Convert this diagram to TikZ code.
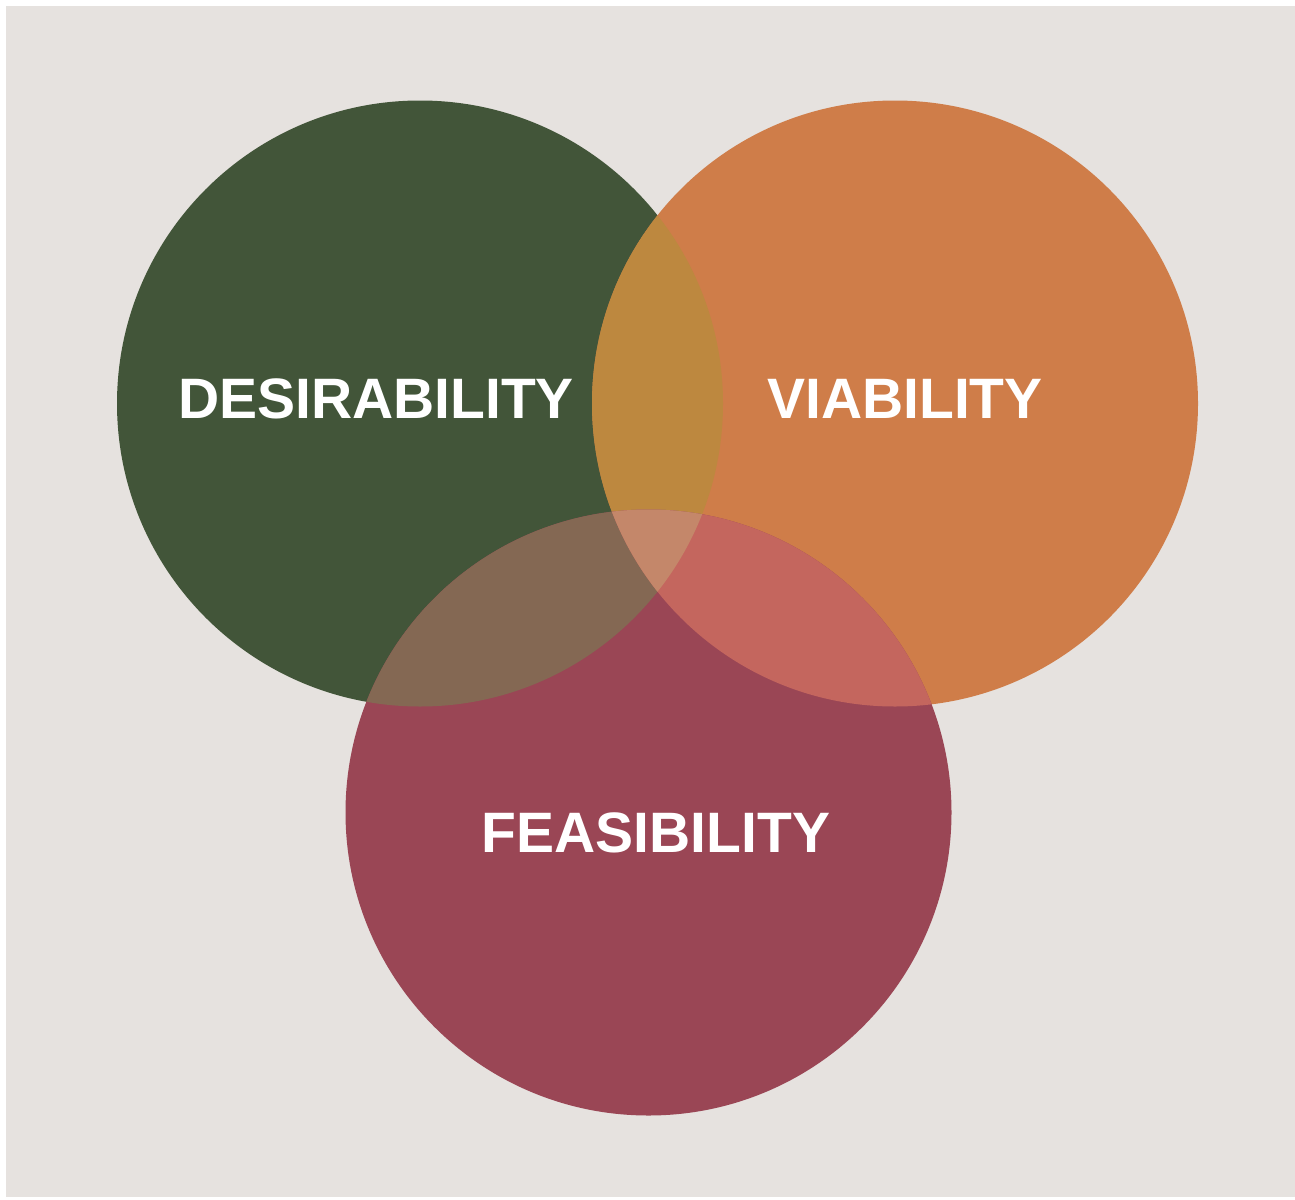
\documentclass[tikz,border=0pt]{standalone}
\usepackage{fontspec}
\setmainfont{Liberation Sans}
\definecolor{backgray}{HTML}{E6E2DF}
\definecolor{desgreen}{HTML}{425539}
\definecolor{vioorange}{HTML}{CF7D49}
\definecolor{feared}{HTML}{9A4655}
\definecolor{dvmix}{HTML}{BD883F}
\definecolor{dfmix}{HTML}{846853}
\definecolor{vfmix}{HTML}{C4665E}
\definecolor{allmix}{HTML}{C4876A}
\tikzset{
  venn/.style={shape=circle,minimum size=606pt,inner sep=0pt,draw=none},
  lbl/.style={text=white,font=\bfseries\fontsize{57}{60}\selectfont,anchor=base,inner sep=0pt}
}
\begin{document}
\begin{tikzpicture}[x=1pt,y=-1pt]
\useasboundingbox[fill=white] (0,0) rectangle (1295,1199);
\fill[backgray] (6,6) rectangle (1295,1197);

\node(des) at (420,403.5)[venn,fill=desgreen]  {};
\node(via) at (895,403.5)[venn,fill=vioorange] {};
\node(fea) at (648.5,812.5)[venn,fill=feared]  {};

% overlaps
\begin{scope}
  \clip (des.center) circle (303pt);
  \fill[dvmix] (via.center) circle (303pt);
  \fill[dfmix] (fea.center) circle (303pt);
\end{scope}
\begin{scope}
  \clip (via.center) circle (303pt);
  \fill[vfmix] (fea.center) circle (303pt);
\end{scope}
\begin{scope}
  \clip (des.center) circle (303pt);
  \clip (via.center) circle (303pt);
  \fill[allmix] (fea.center) circle (303pt);
\end{scope}

\node(deslbl) at (376,418)[lbl] {DESIRABILITY};
\node(vialbl) at (905,418)[lbl] {VIABILITY};
\node(fealbl) at (656,852)[lbl] {FEASIBILITY};

\end{tikzpicture}
\end{document}
